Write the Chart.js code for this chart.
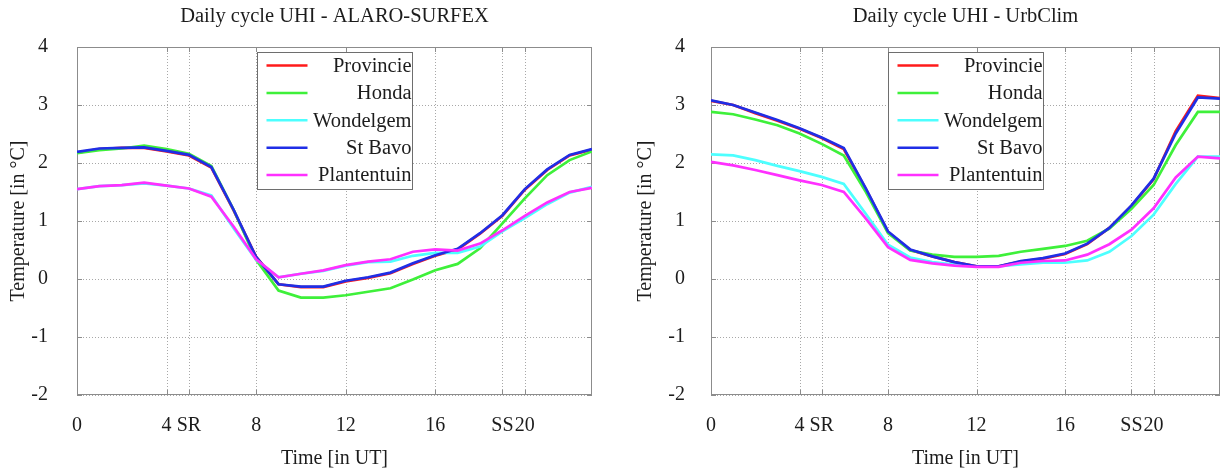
<!DOCTYPE html>
<html>
<head>
<meta charset="utf-8">
<script src="https://cdn.jsdelivr.net/npm/chart.js@4/dist/chart.umd.min.js"></script>
<style>
  body { margin: 0; background: #fff; width: 1225px; height: 470px; position: relative; overflow: hidden; }
  .panel { position: absolute; top: 0; height: 470px; }
</style>
</head>
<body>
<div class="panel" style="left:0;width:612px"><canvas id="alaro" width="612" height="470"></canvas></div>
<div class="panel" style="left:628px;width:597px"><canvas id="urbclim" width="597" height="470"></canvas></div>
<script>
// hourly UHI values (deg C) for the five stations
const hours = [0, 1, 2, 3, 4, 5, 6, 7, 8, 9, 10, 11, 12, 13, 14, 15, 16, 17, 18, 19, 20, 21, 22, 23];
const stations = ["Provincie", "Honda", "Wondelgem", "St Bavo", "Plantentuin"];
const colours = ["#ff1a1a", "#3ef03a", "#4dffff", "#1f2ee6", "#ff30ff"];

// x ticks: sunrise and sunset get their own labels
const tickHours = [0, 4, 5, 8, 12, 16, 19, 20];
const tickLabels = ["0", "4", "SR", "8", "12", "16", "SS", "20"];

const alaroProvincie   = [2.18, 2.24, 2.26, 2.26, 2.20, 2.13, 1.92, 1.18, 0.38, -0.09, -0.14, -0.14, -0.04, 0.02, 0.10, 0.26, 0.40, 0.51, 0.78, 1.09, 1.54, 1.88, 2.13, 2.23];
const alaroHonda       = [2.17, 2.22, 2.25, 2.30, 2.24, 2.16, 1.95, 1.19, 0.33, -0.20, -0.32, -0.32, -0.28, -0.22, -0.16, -0.01, 0.15, 0.26, 0.53, 0.96, 1.39, 1.79, 2.05, 2.20];
const alaroWondelgem   = [1.55, 1.60, 1.62, 1.65, 1.61, 1.56, 1.44, 0.87, 0.33, 0.03, 0.09, 0.14, 0.23, 0.29, 0.30, 0.40, 0.45, 0.45, 0.56, 0.82, 1.05, 1.29, 1.49, 1.59];
const alaroStBavo      = [2.19, 2.25, 2.26, 2.27, 2.21, 2.14, 1.93, 1.19, 0.38, -0.09, -0.13, -0.13, -0.03, 0.03, 0.11, 0.27, 0.41, 0.52, 0.79, 1.10, 1.55, 1.89, 2.14, 2.24];
const alaroPlantentuin = [1.55, 1.60, 1.62, 1.66, 1.61, 1.56, 1.42, 0.90, 0.34, 0.03, 0.09, 0.15, 0.24, 0.30, 0.34, 0.47, 0.51, 0.49, 0.61, 0.84, 1.09, 1.32, 1.50, 1.57];

const urbProvincie   = [3.07, 3.00, 2.86, 2.73, 2.59, 2.43, 2.24, 1.55, 0.81, 0.50, 0.39, 0.29, 0.22, 0.22, 0.30, 0.35, 0.43, 0.60, 0.88, 1.26, 1.72, 2.55, 3.16, 3.12];
const urbHonda       = [2.88, 2.84, 2.75, 2.65, 2.51, 2.33, 2.13, 1.50, 0.79, 0.49, 0.42, 0.38, 0.38, 0.40, 0.47, 0.52, 0.57, 0.66, 0.87, 1.21, 1.62, 2.31, 2.88, 2.88];
const urbWondelgem   = [2.15, 2.13, 2.05, 1.95, 1.86, 1.76, 1.64, 1.12, 0.59, 0.37, 0.29, 0.25, 0.22, 0.22, 0.25, 0.28, 0.28, 0.32, 0.47, 0.74, 1.11, 1.64, 2.11, 2.11];
const urbStBavo      = [3.08, 3.00, 2.87, 2.74, 2.60, 2.44, 2.26, 1.56, 0.82, 0.51, 0.39, 0.29, 0.22, 0.22, 0.31, 0.36, 0.44, 0.61, 0.88, 1.27, 1.73, 2.51, 3.13, 3.11];
const urbPlantentuin = [2.02, 1.96, 1.88, 1.79, 1.70, 1.62, 1.50, 1.04, 0.55, 0.33, 0.27, 0.23, 0.21, 0.21, 0.28, 0.31, 0.32, 0.42, 0.60, 0.85, 1.22, 1.75, 2.11, 2.08];

const textColour = "#1c1c1c";
const serif = "'Liberation Serif', 'DejaVu Serif', serif";
Chart.defaults.font.family = serif;
Chart.defaults.font.size = 20;
Chart.defaults.color = textColour;

// dotted grid, axes box with short inward tick marks, title over the plot centre
const framePlugin = {
  id: "frame",
  beforeDatasetsDraw(chart) {
    const { ctx, chartArea: a, scales } = chart;
    const xs = tickHours.map(h => Math.round(scales.x.getPixelForValue(h)) + 0.5);
    const ys = scales.y.ticks.map(t => Math.round(scales.y.getPixelForValue(t.value)) + 0.5);
    ctx.save();
    ctx.strokeStyle = "#a8a8a8";
    ctx.lineWidth = 1;
    ctx.setLineDash([1, 2]);
    ctx.beginPath();
    xs.forEach(x => { ctx.moveTo(x, a.top); ctx.lineTo(x, a.bottom); });
    ys.forEach(y => { ctx.moveTo(a.left, y); ctx.lineTo(a.right, y); });
    ctx.stroke();
    ctx.setLineDash([]);
    ctx.strokeStyle = "#8c8c8c";
    ctx.strokeRect(a.left + 0.5, a.top + 0.5, a.width - 1, a.height - 1);
    ctx.beginPath();
    xs.forEach(x => {
      ctx.moveTo(x, a.bottom); ctx.lineTo(x, a.bottom - 5);
      ctx.moveTo(x, a.top); ctx.lineTo(x, a.top + 5);
    });
    ys.forEach(y => {
      ctx.moveTo(a.left, y); ctx.lineTo(a.left + 5, y);
      ctx.moveTo(a.right, y); ctx.lineTo(a.right - 5, y);
    });
    ctx.stroke();

    ctx.fillStyle = textColour;
    ctx.font = "20.5px " + serif;
    ctx.textAlign = "center";
    ctx.textBaseline = "middle";
    ctx.fillText(chart.options.plotTitle, (a.left + a.right) / 2, 17);
    ctx.restore();
  }
};

// legend box at the top centre of the plot, labels right-aligned
const boxLegend = {
  id: "boxLegend",
  afterDatasetsDraw(chart) {
    const { ctx, chartArea: a } = chart;
    const w = 155, h = 137, rowH = 27.4;
    const left = Math.round((a.left + a.right) / 2 - w / 2) + 0.5;
    const top = a.top + 5.5;
    ctx.save();
    ctx.fillStyle = "#fff";
    ctx.fillRect(left, top, w, h);
    ctx.strokeStyle = "#6e6e6e";
    ctx.lineWidth = 1;
    ctx.strokeRect(left, top, w, h);
    ctx.font = "20.5px " + serif;
    ctx.textAlign = "right";
    ctx.textBaseline = "middle";
    chart.data.datasets.forEach((ds, i) => {
      const y = top + 13 + i * rowH;
      ctx.strokeStyle = ds.borderColor;
      ctx.lineWidth = 2.5;
      ctx.beginPath();
      ctx.moveTo(left + 9, y);
      ctx.lineTo(left + 50, y);
      ctx.stroke();
      ctx.fillStyle = textColour;
      ctx.fillText(ds.label, left + w - 1, y + 1);
    });
    ctx.restore();
  }
};

function makeChart(id, title, series, yWidth, yTickPad, yTitlePad, rightPad) {
  const datasets = series.map((vals, i) => ({
    label: stations[i],
    data: hours.map((h, j) => ({ x: h, y: vals[j] })),
    borderColor: colours[i],
    borderWidth: 2.7,
    pointRadius: 0,
    tension: 0,
    fill: false,
    order: series.length - i   // later stations drawn on top
  }));

  return new Chart(document.getElementById(id), {
    type: "line",
    data: { datasets },
    options: {
      plotTitle: title,
      responsive: false,
      animation: false,
      layout: { padding: { left: 0, right: rightPad, top: 47, bottom: 0 } },
      plugins: {
        legend: { display: false },
        tooltip: { enabled: false },
        title: { display: false }
      },
      scales: {
        x: {
          type: "linear",
          min: 0,
          max: 23,
          afterBuildTicks: s => { s.ticks = tickHours.map(v => ({ value: v })); },
          afterFit: s => { s.height = 75; },
          ticks: {
            autoSkip: false,
            maxRotation: 0,
            padding: 11,
            callback: v => tickLabels[tickHours.indexOf(v)]
          },
          grid: { display: false },
          border: { display: false },
          title: { display: true, text: "Time [in UT]", padding: { top: 0, bottom: -1 } }
        },
        y: {
          min: -2,
          max: 4,
          afterFit: s => { s.width = yWidth; },
          ticks: { stepSize: 1, padding: yTickPad },
          grid: { display: false },
          border: { display: false },
          title: { display: true, text: "Temperature [in \u00b0C]", padding: { top: yTitlePad, bottom: 0 } }
        }
      }
    },
    plugins: [framePlugin, boxLegend]
  });
}

makeChart("alaro", "Daily cycle UHI - ALARO-SURFEX",
  [alaroProvincie, alaroHonda, alaroWondelgem, alaroStBavo, alaroPlantentuin], 77, 21, 7, 20);
makeChart("urbclim", "Daily cycle UHI - UrbClim",
  [urbProvincie, urbHonda, urbWondelgem, urbStBavo, urbPlantentuin], 83, 18, 6, 5);
</script>
</body>
</html>
